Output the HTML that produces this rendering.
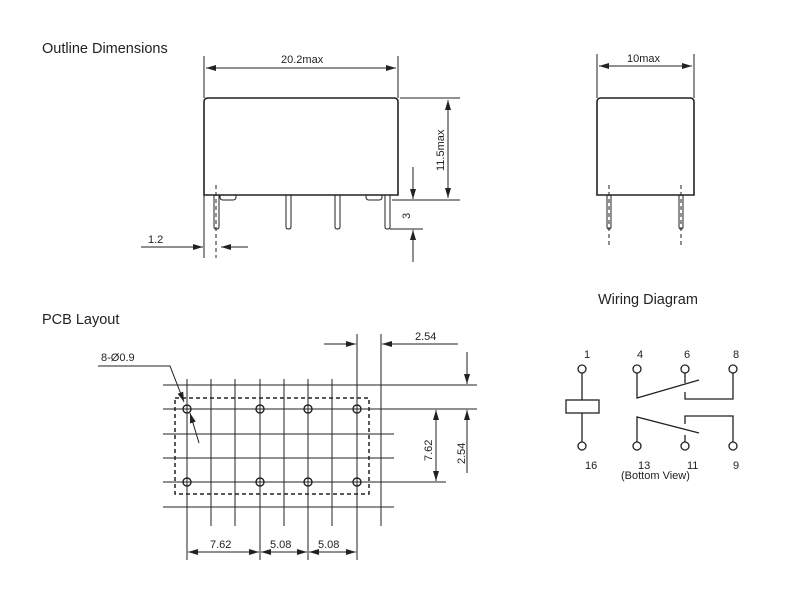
<!DOCTYPE html>
<html><head><style>
body{margin:0;background:#fff}
svg{display:block}
text{font-family:"Liberation Sans",sans-serif;fill:#222}
</style></head><body>
<svg width="800" height="600" viewBox="0 0 800 600" xmlns="http://www.w3.org/2000/svg">
<defs>
<marker id="a" viewBox="0 0 10 6" refX="10" refY="3" markerWidth="10" markerHeight="6" markerUnits="userSpaceOnUse" orient="auto-start-reverse"><path d="M0,0L10,3L0,6z" fill="#222"/></marker>
</defs>
<g stroke="#222" fill="none" stroke-width="1">
<!-- front view -->
<path d="M204,195V102Q204,98 208,98H394Q398,98 398,102V195Z" stroke-width="1.6"/>
<path d="M220,195v2q0,3 3,3h10q3,0 3,-3v-2M366,195v2q0,3 3,3h10q3,0 3,-3v-2"/>
<path d="M214,195V227q0,2 2.5,2t2.5,-2V195M286,195V227q0,2 2.5,2t2.5,-2V195M335,195V227q0,2 2.5,2t2.5,-2V195M385,195V227q0,2 2.5,2t2.5,-2V195"/>
<path d="M216,185V258" stroke-dasharray="4,3"/>
<path d="M204,56V98M398,56V98M204,195V258"/>
<path d="M206,68H396" marker-start="url(#a)" marker-end="url(#a)"/>
<path d="M141,247H203" marker-end="url(#a)"/>
<path d="M248,247H221" marker-end="url(#a)"/>
<path d="M400,98H460M392,200H460M390,229H423"/>
<path d="M448,100V198" marker-start="url(#a)" marker-end="url(#a)"/>
<path d="M413,167V199" marker-end="url(#a)"/>
<path d="M413,262V230" marker-end="url(#a)"/>
<!-- side view -->
<path d="M597,195V102Q597,98 601,98H690Q694,98 694,102V195Z" stroke-width="1.6"/>
<path d="M607,195V227q0,2 2,2t2,-2V195M679,195V227q0,2 2,2t2,-2V195"/>
<path d="M609,185V245M681,185V245" stroke-dasharray="4,3"/>
<path d="M597,54V98M694,54V98"/>
<path d="M599,66H692" marker-start="url(#a)" marker-end="url(#a)"/>
<!-- PCB grid -->
<path d="M163,385H477M163,409H477M163,434H394M163,458H394M163,482H446M163,507H394"/>
<path d="M187,379V560M211,379V526M235,379V526M260,379V560M284,379V526M308,379V560M332,379V526M357,334V560M381,334V526"/>
<rect x="175" y="398" width="194" height="96" stroke-dasharray="4,3" stroke-width="1.5"/>
<g stroke-width="1.4"><circle cx="187" cy="409" r="4"/><circle cx="260" cy="409" r="4"/><circle cx="308" cy="409" r="4"/><circle cx="357" cy="409" r="4"/><circle cx="187" cy="482" r="4"/><circle cx="260" cy="482" r="4"/><circle cx="308" cy="482" r="4"/><circle cx="357" cy="482" r="4"/></g>
<path d="M324,344H356" marker-end="url(#a)"/>
<path d="M458,344H382" marker-end="url(#a)"/>
<path d="M467,352V384" marker-end="url(#a)"/>
<path d="M467,473V410" marker-end="url(#a)"/>
<path d="M436,410V481" marker-start="url(#a)" marker-end="url(#a)"/>
<path d="M188,552H259" marker-start="url(#a)" marker-end="url(#a)"/>
<path d="M261,552H307" marker-start="url(#a)" marker-end="url(#a)"/>
<path d="M309,552H356" marker-start="url(#a)" marker-end="url(#a)"/>
<path d="M98,366H170L184,402" marker-end="url(#a)"/>
<path d="M199,443L190,413" marker-end="url(#a)"/>
<!-- wiring -->
<g stroke-width="1.3">
<circle cx="582" cy="369" r="4"/><circle cx="582" cy="446" r="4"/>
<circle cx="637" cy="369" r="4"/><circle cx="685" cy="369" r="4"/><circle cx="733" cy="369" r="4"/>
<circle cx="637" cy="446" r="4"/><circle cx="685" cy="446" r="4"/><circle cx="733" cy="446" r="4"/>
<path d="M582,373V400M582,413V442"/>
<rect x="566" y="400" width="33" height="13"/>
<path d="M637,373V398L699,380M685,373V383M685,392V399H733V373"/>
<path d="M637,442V417L699,433M685,442V435M685,424V416H733V442"/>
</g>
</g>
<g font-size="14.5"><text x="42" y="53">Outline Dimensions</text><text x="42" y="324">PCB Layout</text><text x="598" y="304">Wiring Diagram</text></g>
<g font-size="11">
<text x="281" y="63">20.2max</text>
<text x="148" y="243">1.2</text>
<text x="627" y="62">10max</text>
<text transform="translate(444,171) rotate(-90)">11.5max</text>
<text transform="translate(410,219) rotate(-90)">3</text>
<text x="415" y="340">2.54</text>
<text transform="translate(465,464) rotate(-90)">2.54</text>
<text transform="translate(432,461) rotate(-90)">7.62</text>
<text x="210" y="548">7.62</text>
<text x="270" y="548">5.08</text>
<text x="318" y="548">5.08</text>
<text x="101" y="361">8-Ø0.9</text>
<text x="584" y="358">1</text><text x="637" y="358">4</text><text x="684" y="358">6</text><text x="733" y="358">8</text>
<text x="585" y="469">16</text><text x="638" y="469">13</text><text x="687" y="469">11</text><text x="733" y="469">9</text>
<text x="621" y="479">(Bottom View)</text>
</g>
</svg>
</body></html>
